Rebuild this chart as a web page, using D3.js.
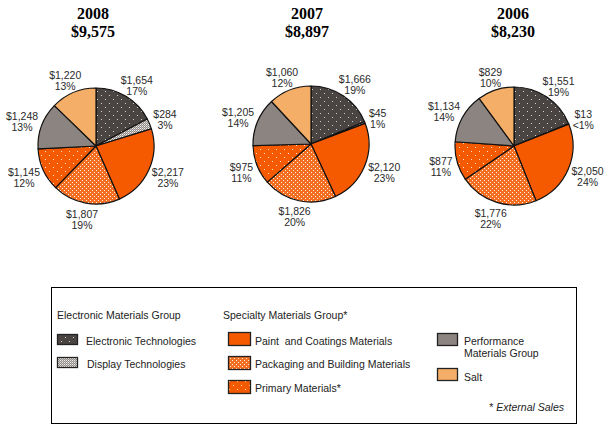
<!DOCTYPE html>
<html>
<head>
<meta charset="utf-8">
<script src="https://cdn.jsdelivr.net/npm/d3@7"></script>
<style>
  html, body { margin: 0; padding: 0; background: #fff; }
  svg { display: block; }
  svg text { white-space: pre; }
</style>
</head>
<body>
<svg id="chart" width="612" height="431"></svg>
<script>
// ---------------- DATA ----------------
const segments = [
  "Electronic Technologies",
  "Display Technologies",
  "Paint  and Coatings Materials",
  "Packaging and Building Materials",
  "Primary Materials*",
  "Performance Materials Group",
  "Salt"
];
const years = ["2008", "2007", "2006"];
const totals = ["$9,575", "$8,897", "$8,230"];
const values2008 = [1654, 284, 2217, 1807, 1145, 1248, 1220];
const values2007 = [1666, 45, 2120, 1826, 975, 1205, 1060];
const values2006 = [1551, 13, 2050, 1776, 877, 1134, 829];
const pct2008 = ["17%", "3%", "23%", "19%", "12%", "13%", "13%"];
const pct2007 = ["19%", "1%", "23%", "20%", "11%", "14%", "12%"];
const pct2006 = ["19%", "<1%", "24%", "22%", "11%", "14%", "10%"];
const groupHeaders = ["Electronic Materials Group", "Specialty Materials Group*"];
const footnote = ["* ", "External Sales"];

// ---------------- LAYOUT ----------------
const svg = d3.select("#chart");
const pies = [
  { values: values2008, pct: pct2008, cx: 96, cy: 146, r: 58, tx: 93 },
  { values: values2007, pct: pct2007, cx: 311, cy: 144, r: 58, tx: 307 },
  { values: values2006, pct: pct2006, cx: 514, cy: 146, r: 59, tx: 513 }
];
const fontSans = "Arial, 'Liberation Sans', Helvetica, sans-serif";
const fontSerif = "'Times New Roman', 'Liberation Serif', Times, serif";

// ---------------- PATTERNS ----------------
const defs = svg.append("defs");
function dotPattern(id, base, size, pts) {
  const p = defs.append("pattern").attr("id", id)
    .attr("patternUnits", "userSpaceOnUse").attr("width", size).attr("height", size);
  p.append("rect").attr("width", size).attr("height", size).attr("fill", base);
  pts.forEach(([x, y, col, op]) => p.append("rect").attr("x", x).attr("y", y)
    .attr("width", 1).attr("height", 1).attr("fill", col).attr("fill-opacity", op));
}
dotPattern("pElec", "#4a4442", 8, [[1, 1, "#ffffff", 0.75], [5, 5, "#ffffff", 0.75]]);
dotPattern("pDisp", "#938d89", 2, [[0, 0, "#f0f0f0", 1], [1, 1, "#c4bfbb", 1]]);
dotPattern("pPack", "#f36e20", 4, [[0, 0, "#fff4ea", 0.95], [2, 2, "#fff4ea", 0.95]]);
dotPattern("pPrim", "#f55a00", 8, [[1, 1, "#ffffff", 0.85], [5, 5, "#ffffff", 0.85]]);

const fills = ["url(#pElec)", "url(#pDisp)", "#f55a00", "url(#pPack)", "url(#pPrim)", "#8c8480", "#f5ae68"];
const color = d3.scaleOrdinal().domain(segments).range(fills);

// ---------------- PIES ----------------
const pie = d3.pie().sort(null).value(d => d.value).startAngle(0).endAngle(2 * Math.PI);
const fmt = d3.format("$,");

pies.forEach((P, pi) => {
  const g = svg.append("g").attr("transform", `translate(${P.cx},${P.cy})`);
  const data = segments.map((s, i) => ({ seg: s, value: P.values[i], pct: P.pct[i] }));
  const arcs = pie(data);
  const arc = d3.arc().innerRadius(0).outerRadius(P.r);

  g.selectAll("path").data(arcs).join("path")
    .attr("d", arc)
    .attr("fill", d => color(d.data.seg))
    .attr("stroke", "#111")
    .attr("stroke-width", 1.2)
    .attr("stroke-linejoin", "round");

  // Labels (Excel-style outside placement)
  const gap = 5, lineH = 11;
  arcs.forEach(d => {
    const a = (d.startAngle + d.endAngle) / 2;
    const s = Math.sin(a), c = Math.cos(a);
    const t = g.append("text")
      .attr("font-family", fontSans).attr("font-size", 10.5)
      .attr("fill", "#2a2a2a").attr("text-anchor", "middle");
    const l1 = t.append("tspan").text(fmt(d.data.value));
    const l2 = t.append("tspan").text(d.data.pct);
    const w = Math.max(l1.node().getComputedTextLength(), l2.node().getComputedTextLength());
    const h = 20;
    const bx = (P.r + gap) * s + s * w / 2;
    const by = -(P.r + gap) * c - c * h / 2;
    l1.attr("x", bx).attr("y", by);
    l2.attr("x", bx).attr("y", by + lineH);
  });

  // Titles
  svg.append("text").attr("x", P.tx).attr("y", 19)
    .attr("text-anchor", "middle").attr("font-family", fontSerif)
    .attr("font-weight", "bold").attr("font-size", 16).attr("fill", "#000")
    .text(years[pi]);
  svg.append("text").attr("x", P.tx).attr("y", 37)
    .attr("text-anchor", "middle").attr("font-family", fontSerif)
    .attr("font-weight", "bold").attr("font-size", 16).attr("fill", "#000")
    .text(totals[pi]);
});

// ---------------- LEGEND ----------------
const lg = svg.append("g");
lg.append("rect").attr("x", 51.5).attr("y", 287.5).attr("width", 525).attr("height", 136)
  .attr("fill", "none").attr("stroke", "#000").attr("stroke-width", 1);

const legFont = 10.5, legColor = "#222";
function ltext(x, y, str) {
  return lg.append("text").attr("x", x).attr("y", y)
    .attr("font-family", fontSans).attr("font-size", legFont).attr("fill", legColor).text(str);
}
ltext(57, 319, groupHeaders[0]);
ltext(223, 319, groupHeaders[1]);

const legendItems = [
  { seg: segments[0], sx: 57, sy: 334, sw: 20, sh: 10, tx: 86, ty: 345, lines: ["Electronic Technologies"] },
  { seg: segments[1], sx: 57, sy: 357, sw: 20, sh: 10, tx: 87, ty: 368, lines: ["Display Technologies"] },
  { seg: segments[2], sx: 228, sy: 332, sw: 22, sh: 13, tx: 255, ty: 345, lines: ["Paint  and Coatings Materials"] },
  { seg: segments[3], sx: 228, sy: 356, sw: 22, sh: 13, tx: 255, ty: 368, lines: ["Packaging and Building Materials"] },
  { seg: segments[4], sx: 228, sy: 380, sw: 22, sh: 13, tx: 255, ty: 392, lines: ["Primary Materials*"] },
  { seg: segments[5], sx: 437, sy: 333, sw: 20, sh: 12, tx: 464, ty: 345, lines: ["Performance", "Materials Group"] },
  { seg: segments[6], sx: 437, sy: 368, sw: 20, sh: 12, tx: 464, ty: 381, lines: ["Salt"] }
];
legendItems.forEach(it => {
  lg.append("rect").attr("x", it.sx + 0.5).attr("y", it.sy + 0.5)
    .attr("width", it.sw).attr("height", it.sh)
    .attr("fill", color(it.seg)).attr("stroke", "#222").attr("stroke-width", 1.3);
  it.lines.forEach((ln, k) => ltext(it.tx, it.ty + k * 12, ln));
});

const fn = lg.append("text").attr("x", 564).attr("y", 411).attr("text-anchor", "end")
  .attr("font-family", fontSans).attr("font-size", legFont).attr("fill", legColor);
fn.append("tspan").text(footnote[0]);
fn.append("tspan").attr("font-style", "italic").text(footnote[1]);
</script>
</body>
</html>
